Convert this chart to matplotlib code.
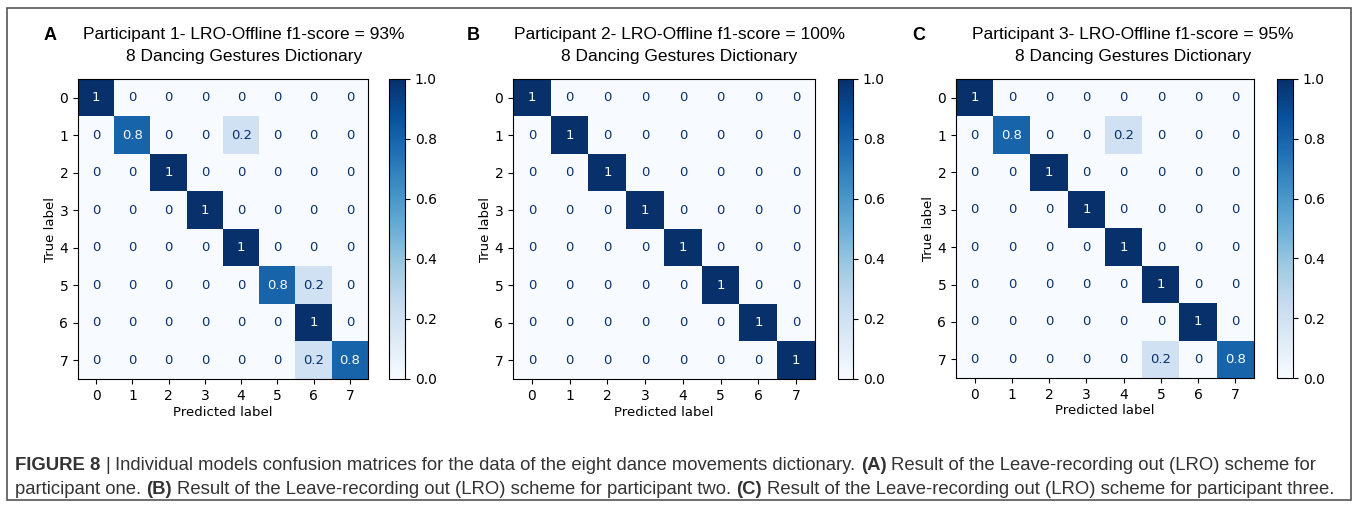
import numpy as np
import matplotlib
matplotlib.use("Agg")
import matplotlib.pyplot as plt
from matplotlib.patches import Rectangle

W, H = 1357, 509

labels = [0, 1, 2, 3, 4, 5, 6, 7]

cm_a = [[1, 0, 0, 0, 0, 0, 0, 0],
        [0, 0.8, 0, 0, 0.2, 0, 0, 0],
        [0, 0, 1, 0, 0, 0, 0, 0],
        [0, 0, 0, 1, 0, 0, 0, 0],
        [0, 0, 0, 0, 1, 0, 0, 0],
        [0, 0, 0, 0, 0, 0.8, 0.2, 0],
        [0, 0, 0, 0, 0, 0, 1, 0],
        [0, 0, 0, 0, 0, 0, 0.2, 0.8]]
cm_b = [[1, 0, 0, 0, 0, 0, 0, 0],
        [0, 1, 0, 0, 0, 0, 0, 0],
        [0, 0, 1, 0, 0, 0, 0, 0],
        [0, 0, 0, 1, 0, 0, 0, 0],
        [0, 0, 0, 0, 1, 0, 0, 0],
        [0, 0, 0, 0, 0, 1, 0, 0],
        [0, 0, 0, 0, 0, 0, 1, 0],
        [0, 0, 0, 0, 0, 0, 0, 1]]
cm_c = [[1, 0, 0, 0, 0, 0, 0, 0],
        [0, 0.8, 0, 0, 0.2, 0, 0, 0],
        [0, 0, 1, 0, 0, 0, 0, 0],
        [0, 0, 0, 1, 0, 0, 0, 0],
        [0, 0, 0, 0, 1, 0, 0, 0],
        [0, 0, 0, 0, 0, 1, 0, 0],
        [0, 0, 0, 0, 0, 0, 1, 0],
        [0, 0, 0, 0, 0, 0.2, 0, 0.8]]

panel_letters = ["A", "B", "C"]
titles = ["Participant 1- LRO-Offline f1-score = 93%",
          "Participant 2- LRO-Offline f1-score = 100%",
          "Participant 3- LRO-Offline f1-score = 95%"]
subtitle = "8 Dancing Gestures Dictionary"

caption1 = [("FIGURE 8", True), ("|", False),
            ("Individual models confusion matrices for the data of the eight dance movements dictionary.", False),
            ("(A)", True), ("Result of the Leave-recording out (LRO) scheme for", False)]
caption2 = [("participant one.", False), ("(B)", True),
            ("Result of the Leave-recording out (LRO) scheme for participant two.", False),
            ("(C)", True),
            ("Result of the Leave-recording out (LRO) scheme for participant three.", False)]


def box(x0, y0, x1, y1):
    return [x0 / W, 1 - y1 / H, (x1 - x0) / W, (y1 - y0) / H]


# pixel layout: heatmap, colorbar, title centre, letter x
layout = [
    ((78, 79, 368, 379), (389, 79, 405, 379), 244, 50),
    ((513, 79, 815, 379), (838, 79, 853, 379), 679, 473),
    ((956, 79, 1254, 378), (1277, 79, 1293, 378), 1133, 919),
]

fig = plt.figure(figsize=(W / 100, H / 100), dpi=100)
fig.patches.append(Rectangle((7 / W, 1 - 500 / H), 1344 / W, 492 / H,
                             transform=fig.transFigure, fill=False,
                             edgecolor="#555555", linewidth=1.2))

cmap = plt.get_cmap("Blues")
tfont = ["Liberation Sans", "DejaVu Sans"]

for cm, (hb, cb, tx, lx), letter, title in zip([cm_a, cm_b, cm_c], layout, panel_letters, titles):
    cm = np.array(cm, dtype=float)
    ax = fig.add_axes(box(*hb))
    im = ax.imshow(cm, cmap=cmap, vmin=0, vmax=1, aspect="auto", interpolation="nearest")
    for i in range(cm.shape[0]):
        for j in range(cm.shape[1]):
            v = cm[i, j]
            col = cmap(0.0) if v > 0.5 else cmap(1.0)
            ax.text(j, i, format(v, ".2g"), ha="center", va="center", color=col, fontsize=9.5)
    ax.set_xticks(range(len(labels)))
    ax.set_yticks(range(len(labels)))
    ax.set_xticklabels(labels, fontsize=10)
    ax.set_yticklabels(labels, fontsize=10)
    ax.set_xlabel("Predicted label", fontsize=9.5, labelpad=2)
    ax.set_ylabel("True label", fontsize=9.5, labelpad=2)
    cax = fig.add_axes(box(*cb))
    cbar = fig.colorbar(im, cax=cax)
    cbar.set_ticks([0, 0.2, 0.4, 0.6, 0.8, 1.0])
    cbar.ax.tick_params(labelsize=10)
    fig.text(tx / W, 1 - 35 / H, title, ha="center", va="center", fontsize=12.5, family=tfont)
    fig.text(tx / W, 1 - 56 / H, subtitle, ha="center", va="center", fontsize=12.5, family=tfont)
    fig.text(lx / W, 1 - 35 / H, letter, ha="center", va="center", fontsize=13,
             fontweight="bold", family=tfont)

# caption with bold pieces, laid out piece by piece
cfont = ["Liberation Sans", "DejaVu Sans"]
renderer = fig.canvas.get_renderer()


def text_w(s, size, bold):
    t = fig.text(0, 0, s, fontsize=size, family=cfont, fontweight="bold" if bold else "normal")
    w = t.get_window_extent(renderer).width
    t.remove()
    return w


def line_width(pieces, size):
    gap = text_w("x x", size, False) - text_w("xx", size, False)
    return sum(text_w(s, size, b) for s, b in pieces) + gap * (len(pieces) - 1)


size = 11.0
size = size * (1307 / line_width(caption1, size))

for pieces, y in [(caption1, 466), (caption2, 489)]:
    gap = text_w("x x", size, False) - text_w("xx", size, False)
    x = 15
    for s, b in pieces:
        t = fig.text(x / W, 1 - y / H, s, fontsize=size, family=cfont, va="center",
                     fontweight="bold" if b else "normal", color="#333333")
        x += t.get_window_extent(renderer).width + gap

fig.savefig("out.png", dpi=100)
